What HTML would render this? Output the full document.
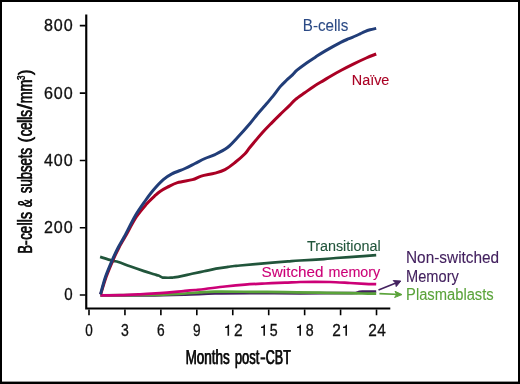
<!DOCTYPE html>
<html>
<head>
<meta charset="utf-8">
<style>
html,body{margin:0;padding:0;background:#fff;}
body{width:520px;height:384px;overflow:hidden;font-family:"Liberation Sans",sans-serif;}
svg{display:block;will-change:transform;transform:translateZ(0);}
text{font-family:"Liberation Sans",sans-serif;}
</style>
</head>
<body>
<svg width="520" height="384" viewBox="0 0 520 384">
<rect x="0" y="0" width="520" height="384" fill="#fff"/>
<rect x="1" y="1" width="518" height="381.85" fill="none" stroke="#000" stroke-width="2"/>
<rect x="0" y="381.7" width="520" height="2.3" fill="#000"/>
<g fill="none" stroke-width="2.6" stroke-linejoin="round" stroke-linecap="butt">
<path stroke="#43215f" stroke-width="2.7" d="M100.50,295.30 C108.25,295.32 132.92,295.52 147.00,295.40 C161.08,295.28 173.67,294.92 185.00,294.60 C196.33,294.28 204.17,293.73 215.00,293.50 C225.83,293.27 235.83,293.23 250.00,293.20 C264.17,293.17 286.67,293.32 300.00,293.30 C313.33,293.28 321.33,293.13 330.00,293.10 C338.67,293.07 347.75,293.12 352.00,293.10 C356.25,293.08 354.58,293.08 355.50,293.00 C356.42,292.92 356.83,292.80 357.50,292.60 C358.17,292.40 358.58,291.97 359.50,291.80 C360.42,291.63 360.22,291.65 363.00,291.60 C365.78,291.55 374.00,291.52 376.20,291.50"/>
<path stroke="#5aa33a" stroke-width="2.7" d="M100.50,295.30 C108.75,295.25 138.08,295.18 150.00,295.00 C161.92,294.82 166.17,294.45 172.00,294.20 C177.83,293.95 180.33,293.80 185.00,293.50 C189.67,293.20 195.00,292.70 200.00,292.40 C205.00,292.10 206.67,291.80 215.00,291.70 C223.33,291.60 238.33,291.73 250.00,291.80 C261.67,291.87 273.33,291.95 285.00,292.10 C296.67,292.25 309.17,292.53 320.00,292.70 C330.83,292.87 343.00,292.97 350.00,293.10 C357.00,293.23 357.63,293.40 362.00,293.50 C366.37,293.60 373.83,293.67 376.20,293.70"/>
<path stroke="#cc0077" stroke-width="2.7" d="M100.40,295.40 C103.67,295.37 113.40,295.38 120.00,295.20 C126.60,295.02 133.33,294.65 140.00,294.30 C146.67,293.95 154.17,293.50 160.00,293.10 C165.83,292.70 170.83,292.27 175.00,291.90 C179.17,291.53 181.67,291.22 185.00,290.90 C188.33,290.58 191.67,290.32 195.00,290.00 C198.33,289.68 200.00,289.58 205.00,289.00 C210.00,288.42 218.33,287.23 225.00,286.50 C231.67,285.77 238.33,285.10 245.00,284.60 C251.67,284.10 258.33,283.82 265.00,283.50 C271.67,283.18 279.17,282.95 285.00,282.70 C290.83,282.45 295.00,282.15 300.00,282.00 C305.00,281.85 310.00,281.80 315.00,281.80 C320.00,281.80 324.17,281.80 330.00,282.00 C335.83,282.20 344.17,282.70 350.00,283.00 C355.83,283.30 360.63,283.60 365.00,283.80 C369.37,284.00 374.33,284.13 376.20,284.20"/>
<path stroke="#21553b" stroke-width="2.7" d="M100.10,256.90 C102.12,257.52 109.15,259.75 112.20,260.60 C115.25,261.45 115.43,261.05 118.40,262.00 C121.37,262.95 125.73,264.78 130.00,266.30 C134.27,267.82 140.00,269.78 144.00,271.10 C148.00,272.42 151.58,273.45 154.00,274.20 C156.42,274.95 157.12,275.05 158.50,275.60 C159.88,276.15 161.30,277.15 162.30,277.50 C163.30,277.85 163.05,277.67 164.50,277.70 C165.95,277.73 169.42,277.75 171.00,277.70 C172.58,277.65 172.25,277.67 174.00,277.40 C175.75,277.13 178.50,276.70 181.50,276.10 C184.50,275.50 188.25,274.60 192.00,273.80 C195.75,273.00 200.00,272.15 204.00,271.30 C208.00,270.45 212.00,269.43 216.00,268.70 C220.00,267.97 224.97,267.35 228.00,266.90 C231.03,266.45 232.20,266.23 234.20,266.00 C236.20,265.77 235.03,265.93 240.00,265.50 C244.97,265.07 256.00,264.08 264.00,263.40 C272.00,262.72 282.00,261.88 288.00,261.40 C294.00,260.92 294.00,260.89 300.00,260.50 C306.00,260.11 318.00,259.47 324.00,259.05 C330.00,258.63 330.67,258.41 336.00,258.00 C341.33,257.59 349.30,257.08 356.00,256.60 C362.70,256.12 372.83,255.39 376.20,255.15"/>
<path stroke="#aa0024" stroke-width="3.0" d="M100.70,294.30 C101.62,291.38 104.17,282.47 106.20,276.80 C108.23,271.13 110.78,265.15 112.90,260.30 C115.02,255.45 116.87,251.62 118.90,247.70 C120.93,243.78 122.18,241.95 125.10,236.80 C128.02,231.65 132.87,222.22 136.40,216.80 C139.93,211.38 143.12,207.90 146.30,204.30 C149.48,200.70 153.22,197.33 155.50,195.20 C157.78,193.07 158.00,192.83 160.00,191.50 C162.00,190.17 164.58,188.68 167.50,187.20 C170.42,185.72 173.33,183.87 177.50,182.60 C181.67,181.33 188.54,180.68 192.50,179.60 C196.46,178.52 197.50,177.18 201.25,176.10 C205.00,175.02 211.04,174.18 215.00,173.10 C218.96,172.02 221.67,171.37 225.00,169.60 C228.33,167.83 231.67,165.14 235.00,162.50 C238.33,159.86 242.50,156.28 245.00,153.75 C247.50,151.22 247.08,150.83 250.00,147.30 C252.92,143.78 258.83,136.72 262.50,132.60 C266.17,128.48 269.08,125.60 272.00,122.60 C274.92,119.60 277.10,117.43 280.00,114.60 C282.90,111.77 286.85,108.10 289.40,105.60 C291.95,103.10 292.75,101.73 295.30,99.60 C297.85,97.47 301.57,95.03 304.70,92.80 C307.83,90.57 310.98,88.23 314.10,86.20 C317.22,84.17 320.58,82.30 323.40,80.60 C326.22,78.90 328.02,77.72 331.00,76.00 C333.98,74.28 337.46,72.32 341.25,70.30 C345.04,68.28 349.58,65.95 353.75,63.90 C357.92,61.85 362.51,59.65 366.25,58.00 C369.99,56.35 374.54,54.67 376.20,54.00"/>
<path stroke="#213d78" stroke-width="3.0" d="M100.50,294.30 C101.35,291.33 103.63,282.22 105.60,276.50 C107.57,270.78 110.20,264.83 112.30,260.00 C114.40,255.17 116.18,251.42 118.20,247.50 C120.22,243.58 121.48,241.92 124.40,236.50 C127.32,231.08 132.13,221.08 135.70,215.00 C139.27,208.92 142.85,204.17 145.80,200.00 C148.75,195.83 150.48,193.40 153.40,190.00 C156.32,186.60 160.22,182.30 163.30,179.60 C166.38,176.90 168.28,175.65 171.90,173.80 C175.52,171.95 181.15,170.22 185.00,168.50 C188.85,166.78 191.67,165.17 195.00,163.50 C198.33,161.83 201.67,159.98 205.00,158.50 C208.33,157.02 211.25,156.43 215.00,154.60 C218.75,152.77 223.75,150.35 227.50,147.50 C231.25,144.65 233.75,141.50 237.50,137.50 C241.25,133.50 246.65,127.42 250.00,123.50 C253.35,119.58 255.02,117.08 257.60,114.00 C260.18,110.92 262.93,107.98 265.50,105.00 C268.07,102.02 270.58,99.12 273.00,96.10 C275.42,93.08 277.79,89.50 280.00,86.90 C282.21,84.30 284.17,82.52 286.25,80.50 C288.33,78.48 290.71,76.52 292.50,74.80 C294.29,73.08 294.71,72.13 297.00,70.20 C299.29,68.27 303.15,65.40 306.25,63.20 C309.35,61.00 312.43,59.05 315.60,57.00 C318.78,54.95 321.03,53.38 325.30,50.90 C329.57,48.42 337.30,44.13 341.25,42.10 C345.20,40.07 346.64,39.72 349.00,38.70 C351.36,37.68 353.57,36.80 355.40,36.00 C357.23,35.20 358.43,34.63 360.00,33.90 C361.57,33.17 363.13,32.28 364.80,31.60 C366.47,30.92 368.10,30.33 370.00,29.80 C371.90,29.27 375.17,28.63 376.20,28.40"/>
</g>
<g stroke-width="1.6" fill="none">
<path stroke="#43215f" d="M378.5,290 L399,281.7"/>
<path stroke="#43215f" fill="#43215f" stroke-width="1" d="M400.8,281 L393.2,280.6 L395.6,283 L396.2,286.6 Z"/>
<path stroke="#5aa33a" d="M379.4,293.6 L400,294.5"/>
<path stroke="#5aa33a" fill="#5aa33a" stroke-width="1" d="M402,294.6 L395,291.3 L396.6,294.4 L394.6,297.5 Z"/>
</g>
<g stroke="#000" fill="none">
<path stroke-width="2.15" d="M86.25,14.6 L86.25,308.5 L390.3,308.5" stroke-linejoin="miter"/>
<path stroke-width="1.6" d="M79.8,25.6H85.6 M79.8,93.1H85.6 M79.8,160.5H85.6 M79.8,227.8H85.6 M79.8,295.0H85.6"/>
<path stroke-width="1.6" d="M89.00,309.4V315.3 M124.94,309.4V315.3 M160.88,309.4V315.3 M196.82,309.4V315.3 M232.76,309.4V315.3 M268.70,309.4V315.3 M304.64,309.4V315.3 M340.58,309.4V315.3 M376.52,309.4V315.3"/>
</g>
<path fill="#111" d="M227.50,335.75 L229.10,335.75 L229.10,324.80 L227.95,324.80 C227.75,326.15 226.60,326.75 225.10,326.80 L225.10,327.95 L227.50,327.95 Z"/>
<path fill="#111" d="M263.40,335.75 L265.00,335.75 L265.00,324.80 L263.85,324.80 C263.65,326.15 262.50,326.75 261.00,326.80 L261.00,327.95 L263.40,327.95 Z"/>
<path fill="#111" d="M299.40,335.75 L301.00,335.75 L301.00,324.80 L299.85,324.80 C299.65,326.15 298.50,326.75 297.00,326.80 L297.00,327.95 L299.40,327.95 Z"/>
<path fill="#111" d="M345.40,335.75 L347.00,335.75 L347.00,324.80 L345.85,324.80 C345.65,326.15 344.50,326.75 343.00,326.80 L343.00,327.95 L345.40,327.95 Z"/>
<rect x="260.5" y="357.3" width="4.8" height="2.2" fill="#111"/>
<rect x="25.3" y="240.6" width="2" height="4.3" fill="#111"/>
<text x="302.84" y="31.0" font-size="15.8" fill="#2b4a85" stroke="#2b4a85" stroke-width="0.1" textLength="45.46" lengthAdjust="spacingAndGlyphs">B-cells</text>
<text x="351.76" y="85.1" font-size="15.3" fill="#aa0024" stroke="#aa0024" stroke-width="0.1" textLength="37.62" lengthAdjust="spacingAndGlyphs">Naïve</text>
<text x="306.90" y="250.8" font-size="15.3" fill="#21553b" stroke="#21553b" stroke-width="0.1" textLength="73.77" lengthAdjust="spacingAndGlyphs">Transitional</text>
<text x="261.60" y="277.0" font-size="15.3" fill="#cc0077" stroke="#cc0077" stroke-width="0.1" textLength="61.91" lengthAdjust="spacingAndGlyphs">Switched</text>
<text x="328.56" y="277.1" font-size="15.3" fill="#cc0077" stroke="#cc0077" stroke-width="0.1" textLength="51.71" lengthAdjust="spacingAndGlyphs">memory</text>
<text x="406.03" y="262.6" font-size="15.8" fill="#43215f" stroke="#43215f" stroke-width="0.1" textLength="93.14" lengthAdjust="spacingAndGlyphs">Non-switched</text>
<text x="406.08" y="281.7" font-size="15.8" fill="#43215f" stroke="#43215f" stroke-width="0.1" textLength="52.73" lengthAdjust="spacingAndGlyphs">Memory</text>
<text x="406.07" y="300.4" font-size="15.8" fill="#5aa33a" stroke="#5aa33a" stroke-width="0.1" textLength="87.64" lengthAdjust="spacingAndGlyphs">Plasmablasts</text>
<text x="185.42" y="363.8" font-size="20.5" fill="#111" stroke="#111" stroke-width="0.25" textLength="44.12" lengthAdjust="spacingAndGlyphs">Months</text>
<text x="185.86" y="363.8" font-size="20.5" fill="#111" stroke="#111" stroke-width="0.25" textLength="44.12" lengthAdjust="spacingAndGlyphs">Months</text>
<text x="234.65" y="363.8" font-size="20.5" fill="#111" stroke="#111" stroke-width="0.25" textLength="24.54" lengthAdjust="spacingAndGlyphs">post</text>
<text x="235.09" y="363.8" font-size="20.5" fill="#111" stroke="#111" stroke-width="0.25" textLength="24.54" lengthAdjust="spacingAndGlyphs">post</text>
<text x="265.57" y="363.8" font-size="20.5" fill="#111" stroke="#111" stroke-width="0.25" textLength="25.02" lengthAdjust="spacingAndGlyphs">CBT</text>
<text x="266.01" y="363.8" font-size="20.5" fill="#111" stroke="#111" stroke-width="0.25" textLength="25.02" lengthAdjust="spacingAndGlyphs">CBT</text>
<text transform="translate(31.5,253.29) rotate(-90)" font-size="20.5" fill="#111" stroke="#111" stroke-width="0.25" textLength="8.32" lengthAdjust="spacingAndGlyphs">B</text>
<text transform="translate(31.5,253.73) rotate(-90)" font-size="20.5" fill="#111" stroke="#111" stroke-width="0.25" textLength="8.32" lengthAdjust="spacingAndGlyphs">B</text>
<text transform="translate(31.5,239.58) rotate(-90)" font-size="20.5" fill="#111" stroke="#111" stroke-width="0.25" textLength="13.75" lengthAdjust="spacingAndGlyphs">ce</text>
<text transform="translate(31.5,240.02) rotate(-90)" font-size="20.5" fill="#111" stroke="#111" stroke-width="0.25" textLength="13.75" lengthAdjust="spacingAndGlyphs">ce</text>
<text transform="translate(31.5,225.18) rotate(-90)" font-size="20.5" fill="#111" stroke="#111" stroke-width="0.25" textLength="13.47" lengthAdjust="spacingAndGlyphs">lls</text>
<text transform="translate(31.5,225.62) rotate(-90)" font-size="20.5" fill="#111" stroke="#111" stroke-width="0.25" textLength="13.47" lengthAdjust="spacingAndGlyphs">lls</text>
<text transform="translate(31.5,206.88) rotate(-90)" font-size="20.5" fill="#111" stroke="#111" stroke-width="0.25" textLength="7.91" lengthAdjust="spacingAndGlyphs">&amp;</text>
<text transform="translate(31.5,207.32) rotate(-90)" font-size="20.5" fill="#111" stroke="#111" stroke-width="0.25" textLength="7.91" lengthAdjust="spacingAndGlyphs">&amp;</text>
<text transform="translate(31.5,192.88) rotate(-90)" font-size="20.5" fill="#111" stroke="#111" stroke-width="0.25" textLength="45.06" lengthAdjust="spacingAndGlyphs">subsets</text>
<text transform="translate(31.5,193.32) rotate(-90)" font-size="20.5" fill="#111" stroke="#111" stroke-width="0.25" textLength="45.06" lengthAdjust="spacingAndGlyphs">subsets</text>
<text transform="translate(31.3,142.28) rotate(-90)" font-size="18.3" fill="#111" stroke="#111" stroke-width="0.25" textLength="5.48" lengthAdjust="spacingAndGlyphs">(</text>
<text transform="translate(31.3,142.72) rotate(-90)" font-size="18.3" fill="#111" stroke="#111" stroke-width="0.25" textLength="5.48" lengthAdjust="spacingAndGlyphs">(</text>
<text transform="translate(31.5,136.08) rotate(-90)" font-size="20.5" fill="#111" stroke="#111" stroke-width="0.25" textLength="13.86" lengthAdjust="spacingAndGlyphs">ce</text>
<text transform="translate(31.5,136.52) rotate(-90)" font-size="20.5" fill="#111" stroke="#111" stroke-width="0.25" textLength="13.86" lengthAdjust="spacingAndGlyphs">ce</text>
<text transform="translate(31.5,122.55) rotate(-90)" font-size="20.5" fill="#111" stroke="#111" stroke-width="0.25" textLength="12.94" lengthAdjust="spacingAndGlyphs">lls</text>
<text transform="translate(31.5,122.99) rotate(-90)" font-size="20.5" fill="#111" stroke="#111" stroke-width="0.25" textLength="12.94" lengthAdjust="spacingAndGlyphs">lls</text>
<text transform="translate(31.5,109.28) rotate(-90)" font-size="20.5" fill="#111" stroke="#111" stroke-width="0.25" textLength="5.89" lengthAdjust="spacingAndGlyphs">/</text>
<text transform="translate(31.5,109.72) rotate(-90)" font-size="20.5" fill="#111" stroke="#111" stroke-width="0.25" textLength="5.89" lengthAdjust="spacingAndGlyphs">/</text>
<text transform="translate(31.5,103.18) rotate(-90)" font-size="20.5" fill="#111" stroke="#111" stroke-width="0.25" textLength="23.74" lengthAdjust="spacingAndGlyphs">mm</text>
<text transform="translate(31.5,103.62) rotate(-90)" font-size="20.5" fill="#111" stroke="#111" stroke-width="0.25" textLength="23.74" lengthAdjust="spacingAndGlyphs">mm</text>
<text transform="translate(24.7,79.78) rotate(-90)" font-size="11" fill="#111" stroke="#111" stroke-width="0.2" textLength="4.38" lengthAdjust="spacingAndGlyphs">3</text>
<text transform="translate(24.7,80.22) rotate(-90)" font-size="11" fill="#111" stroke="#111" stroke-width="0.2" textLength="4.38" lengthAdjust="spacingAndGlyphs">3</text>
<text transform="translate(31.3,74.78) rotate(-90)" font-size="18.3" fill="#111" stroke="#111" stroke-width="0.25" textLength="5.36" lengthAdjust="spacingAndGlyphs">)</text>
<text transform="translate(31.3,75.22) rotate(-90)" font-size="18.3" fill="#111" stroke="#111" stroke-width="0.25" textLength="5.36" lengthAdjust="spacingAndGlyphs">)</text>
<text x="44.00" y="31.2" font-size="15.8" fill="#111" stroke="#111" stroke-width="0.3" letter-spacing="0.9" textLength="29.60" lengthAdjust="spacingAndGlyphs">800</text>
<text x="44.00" y="98.7" font-size="15.8" fill="#111" stroke="#111" stroke-width="0.3" letter-spacing="0.9" textLength="29.60" lengthAdjust="spacingAndGlyphs">600</text>
<text x="44.00" y="166.1" font-size="15.8" fill="#111" stroke="#111" stroke-width="0.3" letter-spacing="0.9" textLength="29.60" lengthAdjust="spacingAndGlyphs">400</text>
<text x="44.00" y="233.4" font-size="15.8" fill="#111" stroke="#111" stroke-width="0.3" letter-spacing="0.9" textLength="29.60" lengthAdjust="spacingAndGlyphs">200</text>
<text x="64.20" y="300.4" font-size="15.8" fill="#111" stroke="#111" stroke-width="0.3" textLength="8.40" lengthAdjust="spacingAndGlyphs">0</text>
<text x="85.15" y="335.8" font-size="15.8" fill="#111" stroke="#111" stroke-width="0.3" textLength="7.52" lengthAdjust="spacingAndGlyphs">0</text>
<text x="121.00" y="335.8" font-size="15.8" fill="#111" stroke="#111" stroke-width="0.3" textLength="7.81" lengthAdjust="spacingAndGlyphs">3</text>
<text x="157.00" y="335.8" font-size="15.8" fill="#111" stroke="#111" stroke-width="0.3" textLength="7.66" lengthAdjust="spacingAndGlyphs">6</text>
<text x="192.90" y="335.8" font-size="15.8" fill="#111" stroke="#111" stroke-width="0.3" textLength="7.61" lengthAdjust="spacingAndGlyphs">9</text>
<text x="234.10" y="335.8" font-size="15.8" fill="#111" stroke="#111" stroke-width="0.3" textLength="8.62" lengthAdjust="spacingAndGlyphs">2</text>
<text x="269.85" y="335.8" font-size="15.8" fill="#111" stroke="#111" stroke-width="0.3" textLength="7.91" lengthAdjust="spacingAndGlyphs">5</text>
<text x="305.85" y="335.8" font-size="15.8" fill="#111" stroke="#111" stroke-width="0.3" textLength="7.91" lengthAdjust="spacingAndGlyphs">8</text>
<text x="332.15" y="335.8" font-size="15.8" fill="#111" stroke="#111" stroke-width="0.3" textLength="8.57" lengthAdjust="spacingAndGlyphs">2</text>
<text x="368.25" y="335.8" font-size="15.8" fill="#111" stroke="#111" stroke-width="0.3" letter-spacing="0.5" textLength="18.08" lengthAdjust="spacingAndGlyphs">24</text>
</svg>
</body>
</html>
